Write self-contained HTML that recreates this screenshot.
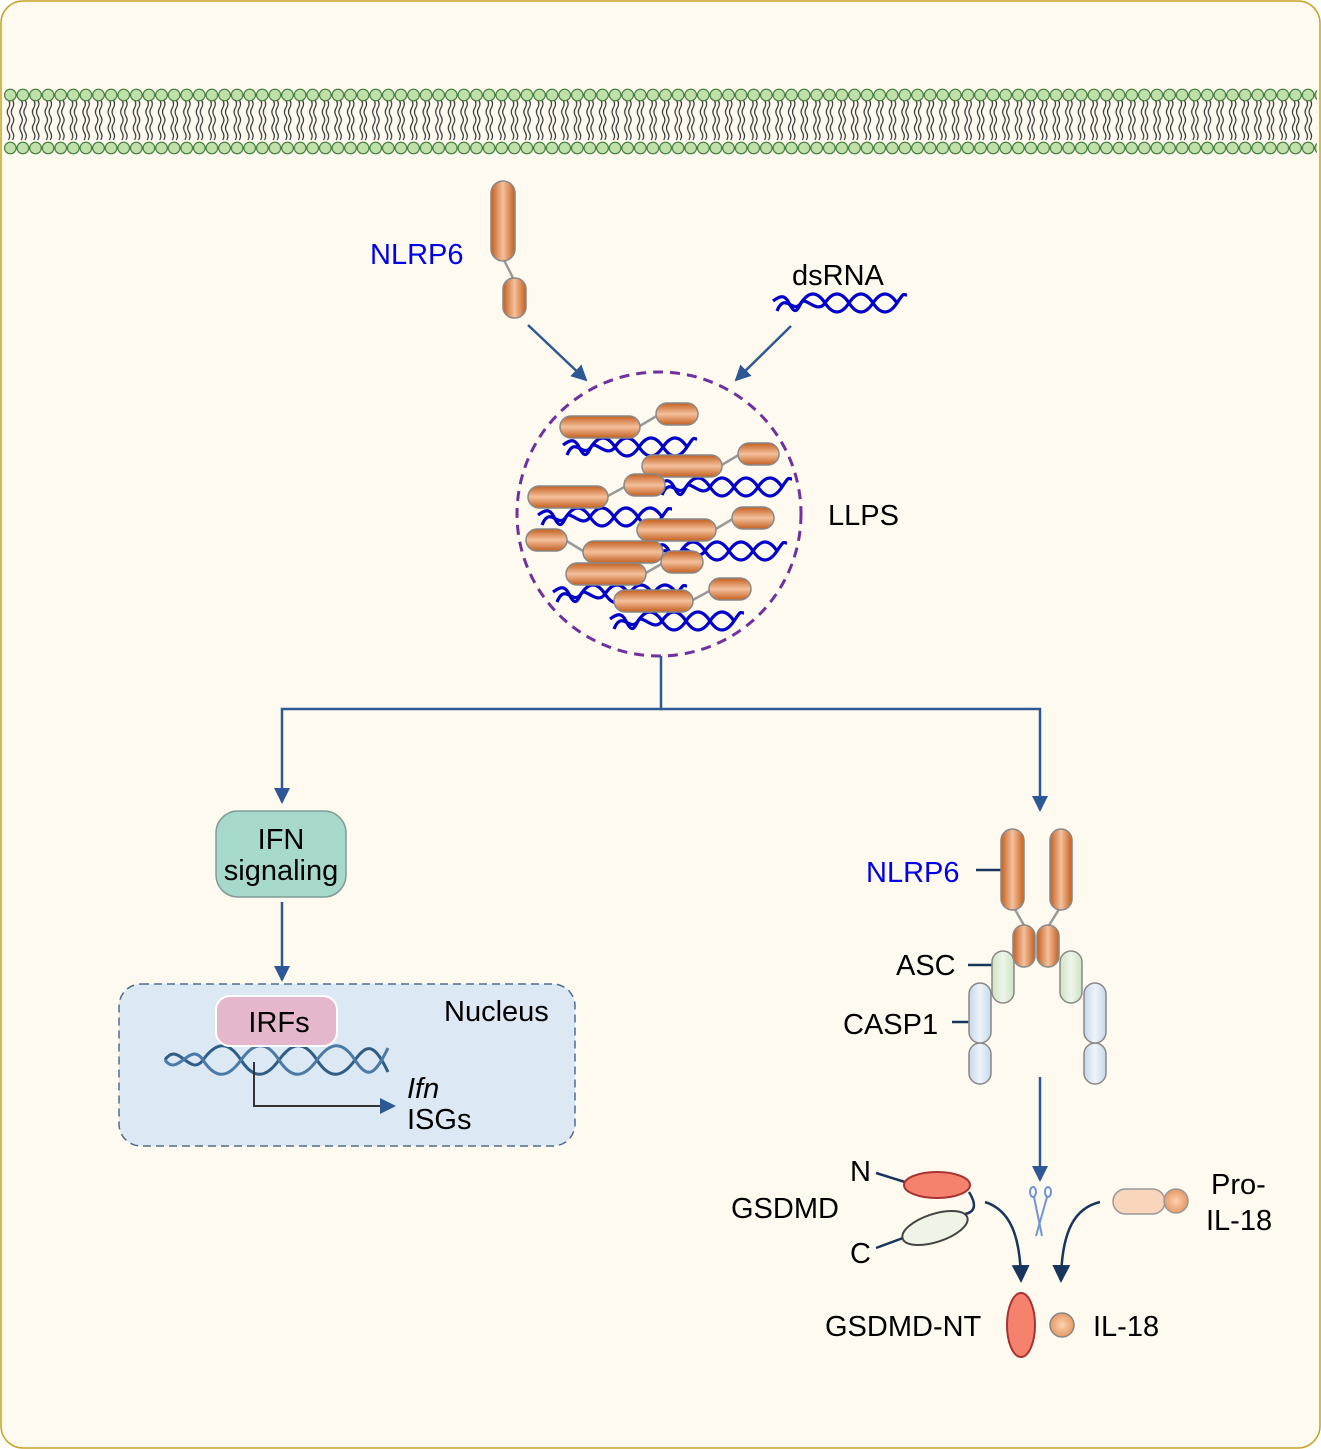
<!DOCTYPE html>
<html><head><meta charset="utf-8"><style>
html,body{margin:0;padding:0;background:#fff;}
svg{display:block;font-family:"Liberation Sans",Arial,sans-serif;}
</style></head><body>
<svg width="1321" height="1449" viewBox="0 0 1321 1449" xmlns="http://www.w3.org/2000/svg">
<defs>
<linearGradient id="og" x1="0" y1="0" x2="0" y2="1"><stop offset="0" stop-color="#c5601f"/><stop offset="0.5" stop-color="#f4c09c"/><stop offset="1" stop-color="#c5601f"/></linearGradient>
<linearGradient id="ogv" x1="0" y1="0" x2="1" y2="0"><stop offset="0" stop-color="#c5601f"/><stop offset="0.5" stop-color="#f4c09c"/><stop offset="1" stop-color="#c5601f"/></linearGradient>
<linearGradient id="gg" x1="0" y1="0" x2="1" y2="0"><stop offset="0" stop-color="#cfe3c4"/><stop offset="0.5" stop-color="#eef5ea"/><stop offset="1" stop-color="#cfe3c4"/></linearGradient>
<linearGradient id="bg" x1="0" y1="0" x2="1" y2="0"><stop offset="0" stop-color="#c6d8ea"/><stop offset="0.5" stop-color="#eef3f8"/><stop offset="1" stop-color="#c6d8ea"/></linearGradient>
<radialGradient id="rg"><stop offset="0" stop-color="#fbd3b3"/><stop offset="1" stop-color="#e79a63"/></radialGradient>
<pattern id="mem" x="4" y="0" width="12.6" height="160" patternUnits="userSpaceOnUse">
<path d="M4.5 100 q2.5 4 0 8 q-2.5 4 0 8 q2.5 4 0 8 q-2.5 4 0 8 q2.5 4 0 8 M8.5 100 q2.5 4 0 8 q-2.5 4 0 8 q2.5 4 0 8 q-2.5 4 0 8 q2.5 4 0 8" stroke="#333" stroke-width="1.2" fill="none"/>
<circle cx="6.3" cy="95" r="5.8" fill="#bfe0a8" stroke="#3f7a3a" stroke-width="1.2"/>
<circle cx="6.3" cy="148" r="5.8" fill="#bfe0a8" stroke="#3f7a3a" stroke-width="1.2"/>
</pattern>
<g id="helix"><path d="M2 16 C10 -4 18 20 26 8 S42 -4 50 8 S66 20 74 8 S90 -4 98 8 S114 20 122 8 S128 0 132 0" stroke="#0000cc" stroke-width="3.2" fill="none"/><path d="M-2 6 C6 0 10 0 14 8 C20 20 22 16 26 8 S42 20 50 8 S66 -4 74 8 S90 20 98 8 S114 -4 122 8" stroke="#0000cc" stroke-width="3.2" fill="none"/></g>
<marker id="ar" markerWidth="16" markerHeight="16" refX="14" refY="8" orient="auto" markerUnits="userSpaceOnUse"><path d="M0 0 L16 8 L0 16 z" fill="#2d5896"/></marker>
<marker id="ar2" markerWidth="18" markerHeight="18" refX="14" refY="9" orient="auto" markerUnits="userSpaceOnUse"><path d="M0 0 L18 9 L0 18 z" fill="#17365d"/></marker>
</defs>
<rect x="1" y="1" width="1319" height="1447" rx="22" fill="#fefaef" stroke="#c9a227" stroke-width="1.5"/>
<rect x="4" y="85" width="1313" height="72" fill="url(#mem)"/>

<g font-size="29">
<line x1="503" y1="258" x2="514" y2="280" stroke="#999" stroke-width="2.5"/>
<rect x="491" y="181" width="24" height="80" rx="12" fill="url(#ogv)" stroke="#888" stroke-width="1.5"/>
<rect x="503" y="278" width="23" height="40" rx="11" fill="url(#ogv)" stroke="#888" stroke-width="1.5"/>
<text x="370" y="264" fill="#0000ee">NLRP6</text>
<text x="792" y="285" fill="#000">dsRNA</text>
<use href="#helix" x="775" y="295"/>
<line x1="528" y1="325" x2="586" y2="380" stroke="#2d5896" stroke-width="2.5" marker-end="url(#ar)"/>
<line x1="791" y1="326" x2="736" y2="380" stroke="#2d5896" stroke-width="2.5" marker-end="url(#ar)"/>

<circle cx="659" cy="514" r="142" fill="none" stroke="#7030a0" stroke-width="3" stroke-dasharray="10 7"/>
<text x="828" y="525">LLPS</text>
<g stroke="#999" stroke-width="2.5">
<line x1="638" y1="427" x2="660" y2="414"/><line x1="720" y1="466" x2="742" y2="453"/><line x1="606" y1="497" x2="628" y2="485"/>
<line x1="714" y1="530" x2="736" y2="517"/><line x1="565" y1="540" x2="588" y2="554"/><line x1="644" y1="574" x2="665" y2="562"/><line x1="691" y1="601" x2="713" y2="589"/>
</g>
<use href="#helix" x="565" y="439"/><use href="#helix" x="660" y="479"/><use href="#helix" x="540" y="509"/>
<use href="#helix" x="655" y="543"/><use href="#helix" x="555" y="586"/><use href="#helix" x="612" y="613"/>
<g fill="url(#og)" stroke="#888" stroke-width="1.5">
<rect x="560" y="416" width="80" height="22" rx="11"/><rect x="656" y="403" width="42" height="22" rx="11"/>
<rect x="642" y="455" width="80" height="22" rx="11"/><rect x="738" y="443" width="41" height="22" rx="11"/>
<rect x="528" y="486" width="80" height="22" rx="11"/><rect x="624" y="474" width="41" height="22" rx="11"/>
<rect x="637" y="519" width="79" height="22" rx="11"/><rect x="732" y="507" width="42" height="22" rx="11"/>
<rect x="526" y="529" width="41" height="22" rx="11"/><rect x="583" y="541" width="80" height="22" rx="11"/>
<rect x="566" y="563" width="80" height="22" rx="11"/><rect x="661" y="551" width="42" height="22" rx="11"/>
<rect x="614" y="590" width="79" height="22" rx="11"/><rect x="709" y="578" width="42" height="22" rx="11"/>
</g>

<polyline points="661,656 661,709 282,709 282,802" fill="none" stroke="#2d5896" stroke-width="2.5" marker-end="url(#ar)"/>
<polyline points="661,709 1040,709 1040,810" fill="none" stroke="#2d5896" stroke-width="2.5" marker-end="url(#ar)"/>

<rect x="216" y="811" width="130" height="86" rx="22" fill="#a6d9cc" stroke="#7f9c95" stroke-width="1.5"/>
<text x="281" y="849" text-anchor="middle">IFN</text>
<text x="281" y="880" text-anchor="middle">signaling</text>
<line x1="282" y1="902" x2="282" y2="980" stroke="#2d5896" stroke-width="2.5" marker-end="url(#ar)"/>
<rect x="119" y="984" width="456" height="162" rx="22" fill="#dce8f3" stroke="#4f6c8c" stroke-width="1.5" stroke-dasharray="8 5"/>
<text x="444" y="1021">Nucleus</text>
<path d="M165 1060 C178 1040 190 1078 203 1060 S228 1040 241 1060 S266 1078 279 1060 S304 1040 317 1060 S342 1078 355 1060 S375 1045 388 1072" stroke="#2e5d86" stroke-width="3" fill="none"/>
<path d="M165 1060 C178 1078 190 1040 203 1060 S228 1078 241 1060 S266 1040 279 1060 S304 1078 317 1060 S342 1040 355 1060 S375 1075 388 1048" stroke="#4a7aa6" stroke-width="3" fill="none"/>
<rect x="216" y="996" width="121" height="50" rx="14" fill="#e4b7cc" stroke="#fff" stroke-width="2"/>
<text x="279" y="1032" text-anchor="middle">IRFs</text>
<polyline points="254,1062 254,1106 394,1106" fill="none" stroke="#333" stroke-width="2" marker-end="url(#ar)"/>
<text x="407" y="1098" font-style="italic">Ifn</text>
<text x="407" y="1129">ISGs</text>

<text x="866" y="882" fill="#0000ee">NLRP6</text>
<line x1="976" y1="870" x2="1001" y2="870" stroke="#17365d" stroke-width="2.5"/>
<line x1="1013" y1="906" x2="1025" y2="927" stroke="#999" stroke-width="2.5"/>
<line x1="1061" y1="906" x2="1048" y2="927" stroke="#999" stroke-width="2.5"/>
<text x="896" y="975">ASC</text>
<line x1="968" y1="965" x2="992" y2="965" stroke="#17365d" stroke-width="2.5"/>
<text x="843" y="1034">CASP1</text>
<line x1="952" y1="1022" x2="969" y2="1022" stroke="#17365d" stroke-width="2.5"/>
<g stroke="#888" stroke-width="1.5">
<rect x="969" y="1043" width="22" height="41" rx="11" fill="url(#bg)"/><rect x="1084" y="1043" width="22" height="41" rx="11" fill="url(#bg)"/>
<rect x="969" y="983" width="22" height="60" rx="11" fill="url(#bg)"/><rect x="1084" y="983" width="22" height="60" rx="11" fill="url(#bg)"/>
<rect x="992" y="951" width="22" height="52" rx="11" fill="url(#gg)"/><rect x="1060" y="951" width="22" height="52" rx="11" fill="url(#gg)"/>
<rect x="1013" y="925" width="22" height="42" rx="11" fill="url(#ogv)"/><rect x="1037" y="925" width="22" height="42" rx="11" fill="url(#ogv)"/>
<rect x="1001" y="829" width="23" height="81" rx="11.5" fill="url(#ogv)"/><rect x="1050" y="829" width="22" height="81" rx="11" fill="url(#ogv)"/>
</g>
<line x1="1040" y1="1077" x2="1040" y2="1180" stroke="#2d5896" stroke-width="2.5" marker-end="url(#ar)"/>
<g stroke="#6f95d6" stroke-width="2" fill="none"><ellipse cx="1033" cy="1192" rx="3" ry="5"/><ellipse cx="1048" cy="1192" rx="3" ry="5"/><line x1="1034" y1="1197" x2="1042" y2="1236"/><line x1="1047" y1="1197" x2="1036" y2="1236"/></g>

<text x="850" y="1181">N</text>
<text x="731" y="1218">GSDMD</text>
<text x="850" y="1263">C</text>
<line x1="876" y1="1173" x2="905" y2="1182" stroke="#17365d" stroke-width="2.5"/>
<line x1="876" y1="1248" x2="903" y2="1238" stroke="#17365d" stroke-width="2.5"/>
<path d="M969 1192 C977 1205 975 1212 965 1214" stroke="#17365d" stroke-width="2.5" fill="none"/>
<ellipse cx="937" cy="1185" rx="33" ry="13" fill="#f4826c" stroke="#a83232" stroke-width="2"/>
<ellipse cx="935" cy="1228" rx="34" ry="14" transform="rotate(-18 935 1228)" fill="#eef5e6" stroke="#444" stroke-width="2"/>
<path d="M985 1202 C1010 1210 1020 1235 1021 1279" stroke="#17365d" stroke-width="2.5" fill="none" marker-end="url(#ar2)"/>
<path d="M1100 1202 C1075 1208 1062 1230 1061 1279" stroke="#17365d" stroke-width="2.5" fill="none" marker-end="url(#ar2)"/>
<rect x="1113" y="1189" width="52" height="25" rx="12.5" fill="#f9d5bc" stroke="#999" stroke-width="1.5"/>
<circle cx="1176" cy="1201" r="12" fill="url(#rg)" stroke="#999" stroke-width="1.5"/>
<text x="1211" y="1194">Pro-</text>
<text x="1206" y="1230">IL-18</text>
<text x="825" y="1336">GSDMD-NT</text>
<ellipse cx="1021" cy="1325" rx="14" ry="32" fill="#f4826c" stroke="#a83232" stroke-width="2"/>
<circle cx="1062" cy="1325" r="12" fill="url(#rg)" stroke="#888" stroke-width="1.5"/>
<text x="1093" y="1336">IL-18</text>
</g>
</svg>
</body></html>
